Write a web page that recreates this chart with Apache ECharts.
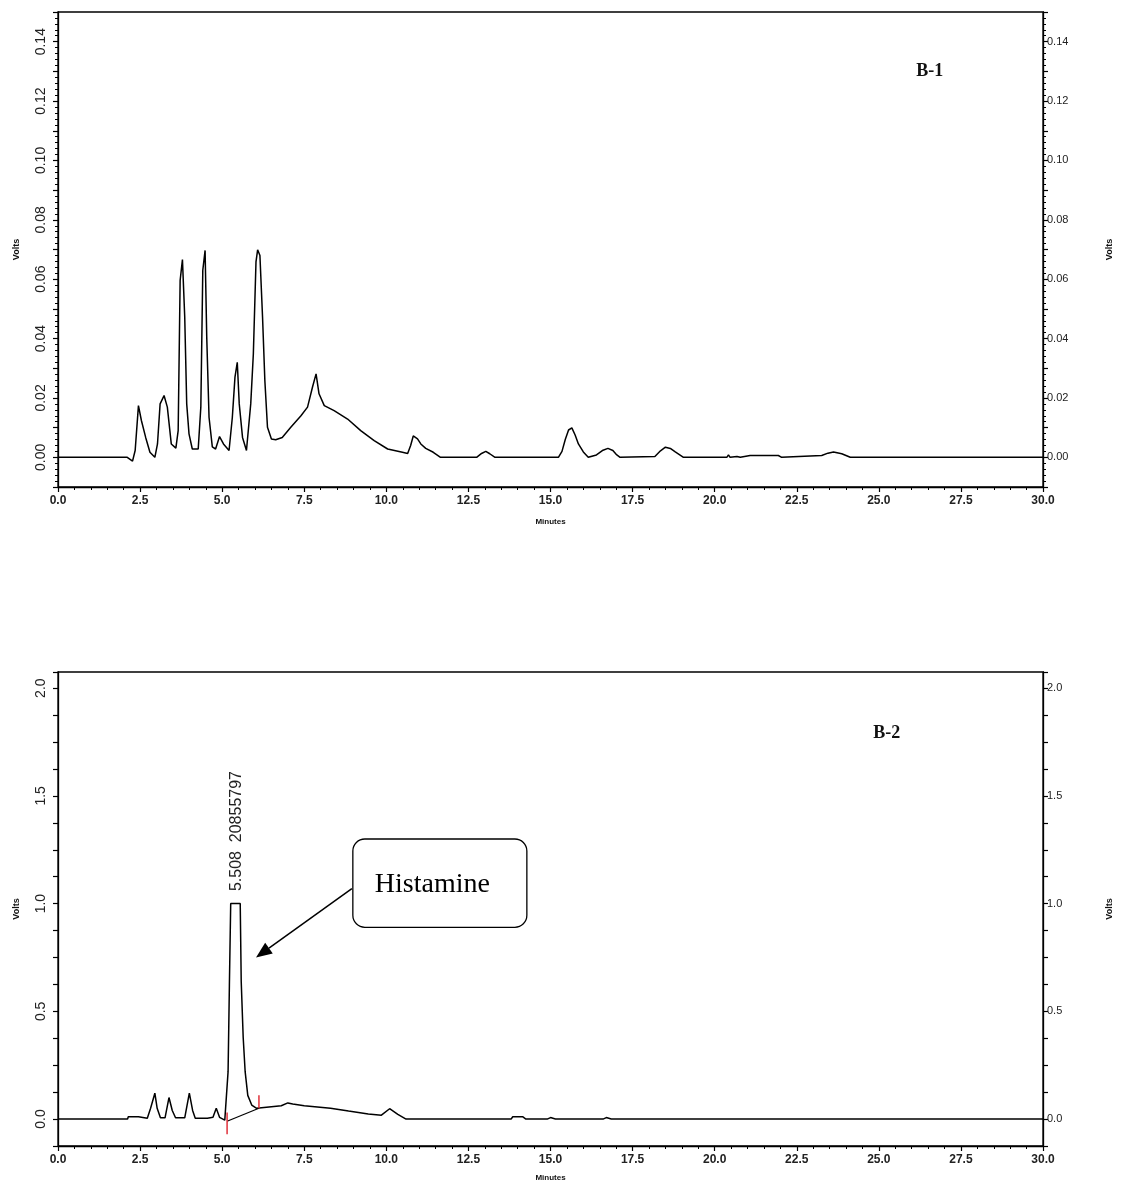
<!DOCTYPE html>
<html>
<head>
<meta charset="utf-8">
<title>B-1 / B-2</title>
<script src="https://cdn.jsdelivr.net/npm/echarts@6/dist/echarts.min.js"></script>
<style>
  html, body { margin: 0; padding: 0; background: #fff; }
  #chart { width: 1123px; height: 1184px; }
</style>
</head>
<body>
<div id="chart"></div>
<script>
// chromatogram B-1 (minutes, volts)
var b1Time = [0, 2.11, 2.27, 2.35, 2.45, 2.54, 2.67, 2.80, 2.95, 3.03, 3.11, 3.23, 3.33, 3.45, 3.59, 3.66, 3.72, 3.79, 3.86, 3.92,
  3.99, 4.09, 4.27, 4.35, 4.41, 4.48, 4.53, 4.60, 4.70, 4.80, 4.92, 5.04, 5.21, 5.31, 5.39, 5.46, 5.52, 5.62, 5.74, 5.80,
  5.87, 5.95, 6.03, 6.08, 6.15, 6.23, 6.30, 6.38, 6.50, 6.63, 6.83, 7.09, 7.40, 7.60, 7.75, 7.86, 7.95, 8.11, 8.41, 8.82,
  9.22, 9.63, 10.04, 10.49, 10.65, 10.74, 10.82, 10.88, 10.95, 11.05, 11.20, 11.43, 11.65,
  12.75, 12.90, 13.03, 13.15, 13.31,
  15.24, 15.35, 15.45, 15.55, 15.65, 15.75, 15.85, 16.00, 16.15,
  16.40, 16.60, 16.75, 16.90, 17.00, 17.12,
  18.18, 18.35, 18.50, 18.65, 18.80, 19.05,
  20.37, 20.42, 20.47, 20.68, 20.78, 21.08, 21.94, 22.04, 23.26, 23.45, 23.62, 23.87, 24.13, 30];
var b1Volts = [0, 0, -0.0013, 0.0023, 0.0174, 0.0124, 0.0067, 0.0017, 0, 0.0045, 0.0180, 0.0208, 0.0169, 0.0045, 0.0031, 0.0090, 0.0596, 0.0666, 0.0472, 0.0180,
  0.0079, 0.0028, 0.0028, 0.0169, 0.0630, 0.0697, 0.0405, 0.0135, 0.0035, 0.0028, 0.0070, 0.0045, 0.0023, 0.0135, 0.0270, 0.0320, 0.0180, 0.0067, 0.0023, 0.0028,
  0.0180, 0.0349, 0.0658, 0.0699, 0.0680, 0.0472, 0.0259, 0.0101, 0.0062, 0.0059, 0.0067, 0.0101, 0.0140, 0.0169, 0.0236, 0.0281, 0.0214, 0.0174, 0.0157, 0.0129,
  0.0090, 0.0056, 0.0028, 0.0017, 0.0013, 0.0040, 0.0072, 0.0077, 0.0062, 0.0045, 0.0030, 0.0017, 0,
  0, 0.0013, 0.0020, 0.0012, 0,
  0, 0.0020, 0.0060, 0.0092, 0.0099, 0.0075, 0.0045, 0.0018, 0,
  0.0008, 0.0024, 0.0030, 0.0023, 0.0010, 0,
  0.0003, 0.0022, 0.0034, 0.0030, 0.0018, 0,
  0, 0.0008, 0, 0.0003, 0, 0.0006, 0.0006, 0, 0.0006, 0.0014, 0.0018, 0.0012, 0, 0];

// chromatogram B-2 (minutes, volts)
var b2Time = [0, 2.12, 2.14, 2.45, 2.50, 2.72, 2.82, 2.95, 3.02, 3.12, 3.26, 3.38, 3.48, 3.58, 3.86, 4.00, 4.10, 4.18, 4.55, 4.72,
  4.82, 4.92, 5.08, 5.14, 5.18, 5.22, 5.26, 5.55, 5.58, 5.64, 5.70, 5.78, 5.90, 6.05, 6.35, 6.80, 7.00, 7.15, 7.50, 8.30,
  8.85, 9.45, 9.85, 10.10, 10.35, 10.60, 13.80, 13.85, 14.15, 14.25, 14.90, 15.00, 15.15, 16.60, 16.70, 16.85, 30];
var b2Volts = [0, 0, 0.011, 0.011, 0.004, 0.004, 0.05, 0.12, 0.05, 0.006, 0.006, 0.10, 0.04, 0.006, 0.006, 0.12, 0.04, 0.004, 0.004, 0.008,
  0.05, 0.008, -0.005, -0.012, 0.22, 0.62, 1.0, 1.0, 0.64, 0.38, 0.22, 0.11, 0.065, 0.05, 0.055, 0.062, 0.075, 0.07, 0.062, 0.05,
  0.037, 0.024, 0.018, 0.048, 0.022, 0, 0, 0.011, 0.011, 0, 0, 0.007, 0, 0, 0.007, 0, 0];

// integration baseline and peak markers of the histamine peak
var b2BaseTime = [5.15, 6.12];
var b2BaseVolts = [-0.01, 0.05];
var startTickVolts = [0.03, -0.07];
var endTickVolts = [0.05, 0.11];
var peakTime = 5.44;
var peakTop = 1.0;
var peakText = '5.508  20855797';

// axes
var xTicks = [0, 2.5, 5, 7.5, 10, 12.5, 15, 17.5, 20, 22.5, 25, 27.5, 30];
var b1Range = [-0.01, 0.15];
var b2Range = [-0.125, 2.075];

function pairs(xs, ys) {
  var out = [];
  for (var i = 0; i < xs.length; i++) out.push([xs[i], ys[i]]);
  return out;
}

function b1Label(v) {
  var k = Math.round(v * 100);
  return (k >= 0 && k % 2 === 0) ? (k / 100).toFixed(2) : '';
}

function b2Label(v) {
  var k = Math.round(v * 1000);
  return (k >= 0 && k <= 2000 && k % 500 === 0) ? (k / 1000).toFixed(1) : '';
}

var font = 'Liberation Sans, Arial, sans-serif';

function xAxisOf(grid, gap) {
  return {
    gridIndex: grid, type: 'value', min: xTicks[0], max: xTicks[xTicks.length - 1], interval: 2.5,
    name: 'Minutes', nameLocation: 'middle', nameGap: gap,
    nameTextStyle: { fontSize: 8, fontWeight: 'bold', color: '#111', fontFamily: font },
    axisLine: { onZero: false, lineStyle: { color: '#000', width: 1.3 } },
    axisTick: { length: 5, lineStyle: { color: '#000', width: 1.2 } },
    minorTick: { show: true, splitNumber: 5, length: 3, lineStyle: { color: '#000', width: 1 } },
    splitLine: { show: false },
    axisLabel: { margin: 8, fontSize: 12, fontWeight: 'bold', color: '#222', fontFamily: font,
      formatter: function (v) { return v.toFixed(1); } }
  };
}

function yAxisOf(grid, side, range, step, labelFn, minor) {
  var left = side === 'left';
  return {
    gridIndex: grid, type: 'value', position: side, min: range[0], max: range[1], interval: step,
    name: 'Volts', nameLocation: 'middle', nameRotate: 90, nameGap: left ? 37 : 62,
    nameTextStyle: { fontSize: 9, fontWeight: 'bold', color: '#111', fontFamily: font },
    axisLine: { onZero: false, lineStyle: { color: '#000', width: 1.3 } },
    axisTick: { length: 5, lineStyle: { color: '#000', width: 1.2 } },
    minorTick: { show: minor, splitNumber: 5, length: 3, lineStyle: { color: '#000', width: 1 } },
    splitLine: { show: false },
    axisLabel: left
      ? { rotate: 90, margin: 10, fontSize: 14, color: '#222', fontFamily: font, formatter: labelFn }
      : { margin: 4, fontSize: 11, color: '#222', fontFamily: font, formatter: labelFn }
  };
}

var trace = { color: '#000', width: 1.5 };

var myChart = echarts.init(document.getElementById('chart'), null, { renderer: 'canvas' });

myChart.setOption({
  animation: false,
  backgroundColor: '#fff',
  grid: [
    { left: 58, right: 80, top: 12, height: 475, show: true, borderColor: '#000', borderWidth: 1.3 },
    { left: 58, right: 80, top: 672, height: 474, show: true, borderColor: '#000', borderWidth: 1.3 }
  ],
  xAxis: [xAxisOf(0, 31), xAxisOf(1, 28)],
  yAxis: [
    yAxisOf(0, 'left', b1Range, 0.01, b1Label, true),
    yAxisOf(0, 'right', b1Range, 0.01, b1Label, true),
    yAxisOf(1, 'left', b2Range, 0.125, b2Label, false),
    yAxisOf(1, 'right', b2Range, 0.125, b2Label, false)
  ],
  series: [
    { name: 'B-1', type: 'line', xAxisIndex: 0, yAxisIndex: 0, showSymbol: false,
      lineStyle: trace, data: pairs(b1Time, b1Volts) },
    { name: 'B-2', type: 'line', xAxisIndex: 1, yAxisIndex: 2, showSymbol: false,
      lineStyle: trace, data: pairs(b2Time, b2Volts),
      markPoint: {
        symbol: 'circle', symbolSize: 1, itemStyle: { color: 'rgba(0,0,0,0)' },
        label: { show: true, formatter: peakText, position: 'top', distance: 12, rotate: 90,
          align: 'left', verticalAlign: 'middle', fontSize: 16, color: '#222', fontFamily: font },
        data: [{ coord: [peakTime, peakTop] }]
      } },
    { name: 'baseline', type: 'line', xAxisIndex: 1, yAxisIndex: 2, showSymbol: false,
      lineStyle: { color: '#000', width: 1.2 }, data: pairs(b2BaseTime, b2BaseVolts) },
    { name: 'start', type: 'line', xAxisIndex: 1, yAxisIndex: 2, showSymbol: false,
      lineStyle: { color: '#e0303a', width: 1.5 }, data: pairs([b2BaseTime[0], b2BaseTime[0]], startTickVolts) },
    { name: 'end', type: 'line', xAxisIndex: 1, yAxisIndex: 2, showSymbol: false,
      lineStyle: { color: '#e0303a', width: 1.5 }, data: pairs([b2BaseTime[1], b2BaseTime[1]], endTickVolts) }
  ]
});

// annotations placed in data space of each panel
function px(grid, pt) {
  return myChart.convertToPixel({ xAxisIndex: grid, yAxisIndex: grid * 2 }, pt);
}

var boxA = px(1, [8.98, 1.30]);
var boxB = px(1, [14.28, 0.89]);
var tail = px(1, [8.95, 1.07]);
var tip = px(1, [6.03, 0.75]);
var txt = px(1, [9.65, 1.09]);
var lb1 = px(0, [26.63, 0.13]);
var lb2 = px(1, [25.32, 1.79]);

var ang = Math.atan2(tip[1] - tail[1], tip[0] - tail[0]);
var headLen = 16, headHalf = 6.5;
var base = [tip[0] - headLen * Math.cos(ang), tip[1] - headLen * Math.sin(ang)];
var nx = -Math.sin(ang), ny = Math.cos(ang);

myChart.setOption({
  graphic: [
    { type: 'text', left: lb1[0] - 16, top: lb1[1] - 9,
      style: { text: 'B-1', font: 'bold 18px "Liberation Serif", "Times New Roman", serif', fill: '#111' } },
    { type: 'text', left: lb2[0] - 16, top: lb2[1] - 9,
      style: { text: 'B-2', font: 'bold 18px "Liberation Serif", "Times New Roman", serif', fill: '#111' } },
    { type: 'rect', shape: { x: boxA[0], y: boxA[1], width: boxB[0] - boxA[0], height: boxB[1] - boxA[1], r: 12 },
      style: { fill: '#fff', stroke: '#000', lineWidth: 1.3 } },
    { type: 'text', x: txt[0], y: txt[1],
      style: { text: 'Histamine', font: '28px "Liberation Serif", "Times New Roman", serif', fill: '#000', verticalAlign: 'middle' } },
    { type: 'line', shape: { x1: tail[0], y1: tail[1], x2: base[0], y2: base[1] },
      style: { stroke: '#000', lineWidth: 1.5 } },
    { type: 'polygon', shape: { points: [tip,
        [base[0] + nx * headHalf, base[1] + ny * headHalf],
        [base[0] - nx * headHalf, base[1] - ny * headHalf]] },
      style: { fill: '#000' } }
  ]
});
</script>
</body>
</html>
